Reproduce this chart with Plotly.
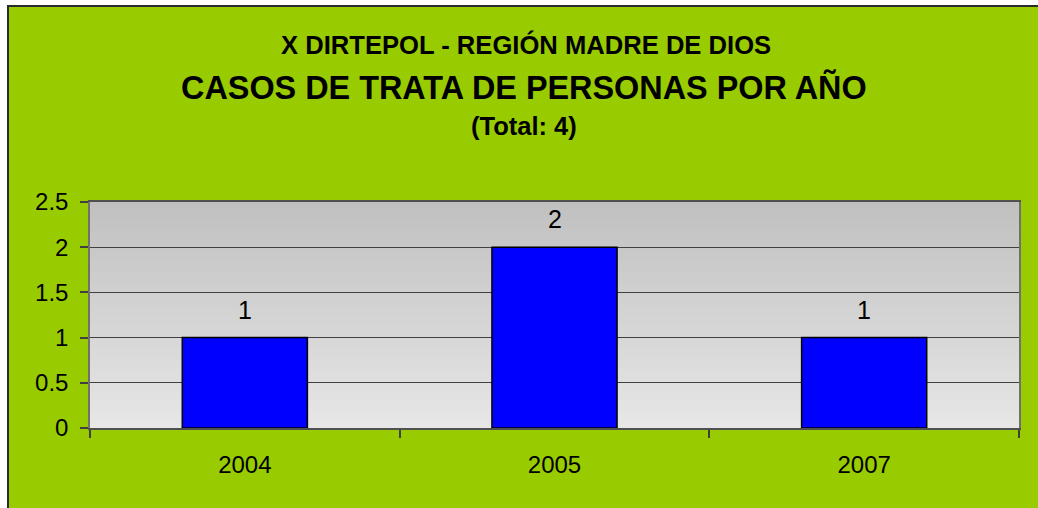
import plotly.graph_objects as go

# ---- data ----
years = ["2004", "2005", "2007"]
cases = [1, 2, 1]
y_ticks = [0, 0.5, 1, 1.5, 2, 2.5]
y_tick_labels = ["0", "0.5", "1", "1.5", "2", "2.5"]
title_line1 = "X DIRTEPOL - REGIÓN MADRE DE DIOS"
title_line2 = "CASOS DE TRATA DE PERSONAS POR AÑO"
title_line3 = "(Total: 4)"

FONT = "Liberation Sans, Arial, sans-serif"
GREEN = "#99CC00"

W, H = 1038, 508
ML = 90
MT = 202
MR = W - 1019
MB = H - 428
PW, PH = W - ML - MR, H - MT - MB


def px_x(p):  # pixel -> paper x
    return (p - ML) / PW


def px_y(p):  # pixel -> paper y
    return (H - MB - p) / PH


fig = go.Figure()
fig.add_trace(go.Bar(
    x=years, y=cases, width=0.404,
    marker=dict(color="#0000FF", line=dict(color="#000000", width=1.5)),
    hoverinfo="skip",
))

shapes = []
# outer green chart area with dark frame
shapes.append(dict(type="rect", xref="paper", yref="paper",
                   x0=px_x(8), x1=px_x(1120), y0=px_y(560), y1=px_y(6),
                   fillcolor=GREEN, line=dict(color="#2b2b2b", width=2),
                   layer="below"))
# gradient plot background (top darker, bottom lighter)
N = 60
top = (192, 192, 192)
bot = (231, 231, 231)
for i in range(N):
    t = (i + 0.5) / N
    c = tuple(round(bot[k] + (top[k] - bot[k]) * t) for k in range(3))
    shapes.append(dict(type="rect", xref="x domain", yref="y domain",
                       x0=0, x1=1, y0=i / N, y1=min(1.0, (i + 2) / N),
                       fillcolor="rgb(%d,%d,%d)" % c, line=dict(width=0),
                       layer="below"))

annotations = [
    dict(text="<b>%s</b>" % title_line1, x=px_x(526), y=px_y(44),
         font=dict(size=25.6, family=FONT, color="black")),
    dict(text="<b>%s</b>" % title_line2, x=px_x(524), y=px_y(87),
         font=dict(size=32.4, family=FONT, color="black")),
    dict(text="<b>%s</b>" % title_line3, x=px_x(524), y=px_y(126),
         font=dict(size=25.5, family=FONT, color="black")),
]
for a in annotations:
    a.update(xref="paper", yref="paper", showarrow=False,
             xanchor="center", yanchor="middle")

for i, v in enumerate(cases):
    annotations.append(dict(x=i, y=v, xref="x", yref="y", text=str(v),
                            showarrow=False, yanchor="middle", yshift=28,
                            font=dict(size=25, family=FONT, color="black")))

fig.update_layout(
    width=W, height=H,
    margin=dict(l=ML, r=MR, t=MT, b=MB, pad=0),
    paper_bgcolor="white",
    plot_bgcolor="#d5d5d5",
    showlegend=False,
    shapes=shapes,
    annotations=annotations,
    font=dict(family=FONT, color="black", size=24),
)
fig.update_xaxes(
    type="category", range=[-0.5, 2.5],
    showgrid=False, showline=True, linecolor="#505050", linewidth=1.5,
    mirror=True,
    ticks="outside", tickson="boundaries", ticklen=8, tickwidth=1.5,
    tickcolor="#404040", ticklabelstandoff=14,
    tickfont=dict(size=24, family=FONT, color="black"),
    fixedrange=True,
)
fig.update_yaxes(
    range=[0, 2.5], tickvals=y_ticks, ticktext=y_tick_labels,
    showgrid=True, gridcolor="#404040", gridwidth=1,
    showline=True, linecolor="#707070", linewidth=1.5, mirror=True,
    ticks="outside", ticklen=8, tickwidth=1.5, tickcolor="#404040",
    ticklabelstandoff=7, zeroline=False,
    tickfont=dict(size=24, family=FONT, color="black"),
    fixedrange=True,
)

fig.write_html(
    "out.html",
    config={"displayModeBar": False},
    post_script="document.body.style.margin='0';"
                "document.body.style.overflow='hidden';"
                "document.documentElement.style.overflow='hidden';",
)
